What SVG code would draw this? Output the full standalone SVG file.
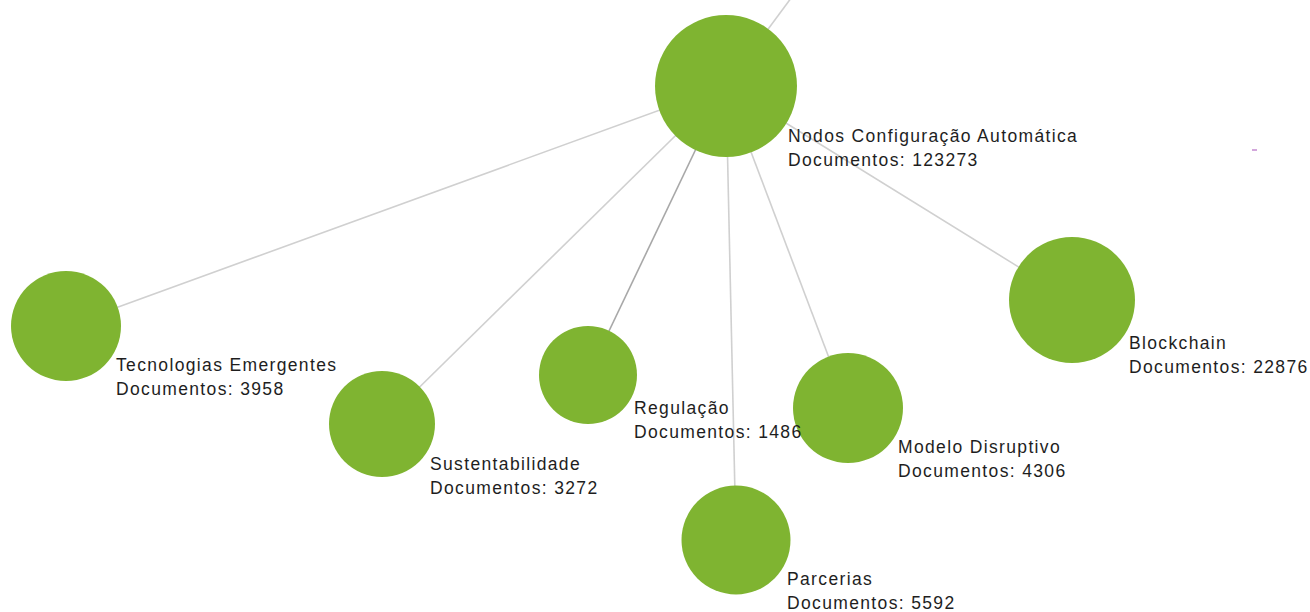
<svg xmlns="http://www.w3.org/2000/svg" width="1310" height="612" viewBox="0 0 1310 612">
<style>
.link{stroke:#d0d0d0;stroke-width:1.6;fill:none}
.link.dark{stroke:#a8a8a8}
.node circle{fill:#7fb431}
.label{font-family:"Liberation Sans",Arial,sans-serif;font-size:17.5px;letter-spacing:1.35px;fill:#1e1e1e}
</style>
<rect width="1310" height="612" fill="#ffffff"/>
<g id="connectors">
<line class="link" x1="726" y1="86" x2="800" y2="-14"/>
<line class="link" x1="726" y1="86" x2="66" y2="326"/>
<line class="link" x1="726" y1="86" x2="382" y2="424"/>
<line class="link dark" x1="726" y1="86" x2="588" y2="375"/>
<line class="link" x1="726" y1="86" x2="736" y2="540"/>
<line class="link" x1="726" y1="86" x2="848" y2="408"/>
<line class="link" x1="726" y1="86" x2="1072" y2="300"/>
<line x1="1252" y1="150" x2="1257" y2="150" stroke="#c58ad0" stroke-width="1.5"/>
</g>
<g id="node-main" class="node"><circle cx="726" cy="86" r="71"/></g>
<g id="node-tecnologias" class="node"><circle cx="66" cy="326" r="55"/></g>
<g id="node-sustentabilidade" class="node"><circle cx="382" cy="424" r="53"/></g>
<g id="node-regulacao" class="node"><circle cx="588" cy="375" r="49"/></g>
<g id="node-parcerias" class="node"><circle cx="736" cy="540" r="54.5"/></g>
<g id="node-modelo" class="node"><circle cx="848" cy="408" r="55"/></g>
<g id="node-blockchain" class="node"><circle cx="1072" cy="300" r="63"/></g>
<g id="labels">
<text class="label" x="788" y="142">Nodos Configuração Automática</text>
<text class="label" x="788" y="166">Documentos: 123273</text>
<text class="label" x="116" y="371">Tecnologias Emergentes</text>
<text class="label" x="116" y="395">Documentos: 3958</text>
<text class="label" x="430" y="470">Sustentabilidade</text>
<text class="label" x="430" y="494">Documentos: 3272</text>
<text class="label" x="634" y="414">Regulação</text>
<text class="label" x="634" y="438">Documentos: 1486</text>
<text class="label" x="787" y="585">Parcerias</text>
<text class="label" x="787" y="609">Documentos: 5592</text>
<text class="label" x="898" y="453">Modelo Disruptivo</text>
<text class="label" x="898" y="477">Documentos: 4306</text>
<text class="label" x="1129" y="349">Blockchain</text>
<text class="label" x="1129" y="373">Documentos: 22876</text>
</g>
</svg>
